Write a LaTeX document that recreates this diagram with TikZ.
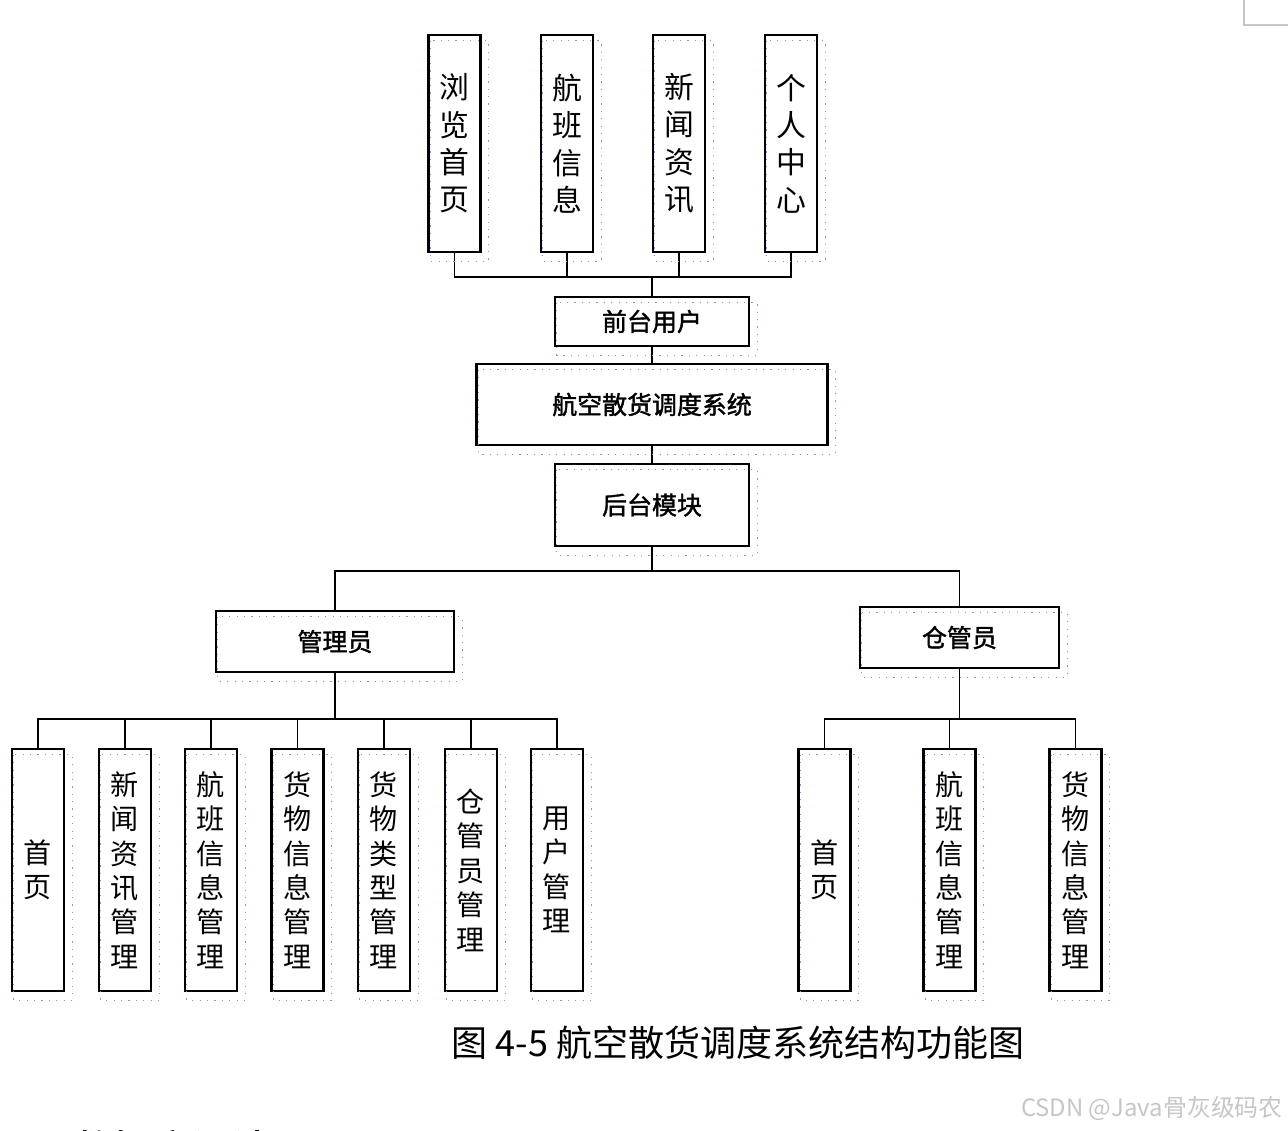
\documentclass[tikz,border=0pt]{standalone}
\usepackage{fontspec}
\newfontfamily\cjk{Noto Sans CJK SC}
\newfontfamily\cjkb[FakeBold=1.5]{Noto Sans CJK SC}
\usepackage{tikz}
\usetikzlibrary{calc,positioning}
\definecolor{punkt}{RGB}{110,160,225}
\tikzset{
  kasten/.style={draw,line width=1.4pt,inner sep=0pt,fill=white},
  oben/.style={kasten,minimum width=1.04cm,minimum height=4.34cm,align=center,font=\cjk\fontsize{17}{21.3}\selectfont},
  unten/.style={kasten,minimum width=1.04cm,minimum height=4.84cm,align=center,font=\cjk\fontsize{16}{19.6}\selectfont},
  fett/.style={kasten,font=\cjkb\fontsize{14.2}{16}\selectfont},
  linie/.style={line width=1.1pt},
  geist/.style={punkt,line width=0.7pt,dash pattern=on 0.7pt off 3.5pt}
}
\begin{document}
\begin{tikzpicture}[x=0.02cm,y=-0.02cm]
\useasboundingbox (0,0) rectangle (1288,1130);
%Seitenecke oben rechts
\draw[gray!45,line width=1pt] (1244,0) -- (1244,25) -- (1288,25);
%Front-End
\foreach \x/\nm/\txt in {454.5/t1/{浏\\览\\首\\页},567/t2/{航\\班\\信\\息},679/t3/{新\\闻\\资\\讯},791/t4/{个\\人\\中\\心}}{
  \node[oben] (\nm) at (\x,143.5) {\txt};
}
\coordinate (bus1) at (652,277);
\foreach \nm in {t1,t2,t3,t4} \draw[linie] (\nm.south) |- (bus1);
\node[fett,minimum width=3.88cm,minimum height=0.98cm] (vorne) at (652,321.5) {前台用户};
\node[fett,minimum width=7.02cm,minimum height=1.62cm] (system) at (652,404.5) {航空散货调度系统};
\node[fett,minimum width=3.88cm,minimum height=1.64cm] (hinten) at (652,505) {后台模块};
\draw[linie] (bus1) -- (vorne.north);
\draw[linie] (vorne) -- (system);
\draw[linie] (system) -- (hinten);
%Back-End
\coordinate (bus2) at (652,571);
\node[fett,minimum width=4.76cm,minimum height=1.22cm] (admin) at (335,641.5) {管理员};
\node[fett,minimum width=3.98cm,minimum height=1.22cm] (lager) at (959.5,637.5) {仓管员};
\draw[linie] (hinten.south) -- (bus2) -| (admin.north);
\draw[linie] (bus2) -| (lager.north);
\coordinate (bus3) at (335,719);
\draw[linie] (admin.south) -- (bus3);
\foreach \x/\nm/\txt in {38/a1/{首\\页},125/a2/{新\\闻\\资\\讯\\管\\理},211/a3/{航\\班\\信\\息\\管\\理},297.5/a4/{货\\物\\信\\息\\管\\理},384/a5/{货\\物\\类\\型\\管\\理},471/a6/{仓\\管\\员\\管\\理},557/a7/{用\\户\\管\\理}}{
  \node[unten] (\nm) at (\x,870) {\txt};
  \draw[linie] (bus3) -| (\nm.north);
}
\coordinate (bus4) at (959.5,719);
\draw[linie] (lager.south) -- (bus4);
\foreach \x/\nm/\txt in {824.5/b1/{首\\页},949.5/b2/{航\\班\\信\\息\\管\\理},1075.5/b3/{货\\物\\信\\息\\管\\理}}{
  \node[unten] (\nm) at (\x,870) {\txt};
  \draw[linie] (bus4) -| (\nm.north);
}
%Textfeld-Raender aus Word
\foreach \nm in {t1,t2,t3,t4,vorne,system,hinten,admin,lager,a1,a2,a3,a4,a5,a6,a7,b1,b2,b3}
  \draw[geist] ($(\nm.north west)+(3,7)$) rectangle ($(\nm.south east)+(7,8)$);
\node[font=\cjk\fontsize{20.5}{22}\selectfont] (titel) at (738,1043) {图 4-5 航空散货调度系统结构功能图};
\node[font=\cjk\fontsize{13.6}{15}\selectfont,text=gray!45,anchor=east,inner sep=0pt] (marke) at (1283,1108) {CSDN @Java骨灰级码农};
\node[font=\cjkb\fontsize{22.4}{24}\selectfont,anchor=north west,inner sep=0pt] (weiter) at (73,1130) {数据库设计};
\end{tikzpicture}
\end{document}
